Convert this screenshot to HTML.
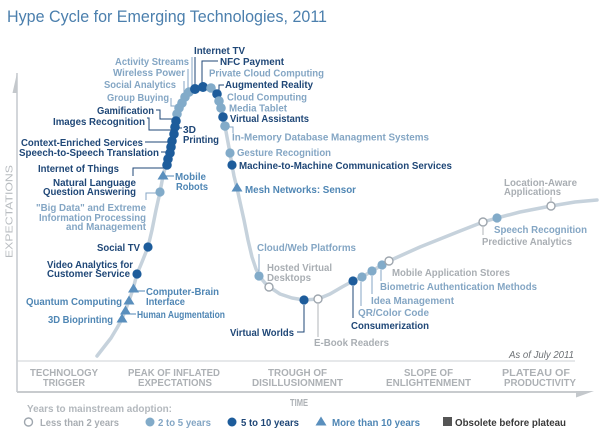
<!DOCTYPE html>
<html>
<head>
<meta charset="utf-8">
<style>
html,body{margin:0;padding:0;background:#fff;}
svg{display:block;}
text{font-family:"Liberation Sans",Arial,sans-serif;}
.d{fill:#1f4777;font-weight:bold;font-size:10.5px;}
.l{fill:#84a6c4;font-weight:bold;font-size:10.5px;}
.t{fill:#4f86b4;font-weight:bold;font-size:10.5px;}
.g{fill:#a9aeb3;font-weight:bold;font-size:10.5px;}
.ph{fill:#adb1b5;font-weight:bold;font-size:10px;}
.ld{stroke:#1f4777;stroke-width:1;fill:none;}
.ll{stroke:#84a6c4;stroke-width:1;fill:none;}
.lt{stroke:#4f86b4;stroke-width:1;fill:none;}
.lg{stroke:#b0b5ba;stroke-width:1;fill:none;}
.md{fill:#1d5c9b;}
.ml{fill:#82abc9;}
.mt{fill:#5a8fbd;}
.mo{fill:#fff;stroke:#9ea6ae;stroke-width:1.4;}
</style>
</head>
<body>
<svg width="600" height="436" viewBox="0 0 600 436" xmlns="http://www.w3.org/2000/svg">
<rect width="600" height="436" fill="#fff"/>
<!-- Title -->
<text x="7" y="22" font-size="17" fill="#4b7fad" textLength="320" lengthAdjust="spacingAndGlyphs">Hype Cycle for Emerging Technologies, 2011</text>

<!-- Axes -->
<line x1="17" y1="73" x2="17" y2="392" stroke="#c8ccd0" stroke-width="1.6"/>
<polygon points="17,73 17,93 12.5,93" fill="#c4c8cc"/>
<line x1="17" y1="361" x2="575" y2="361" stroke="#cdd1d5" stroke-width="1"/>
<line x1="17" y1="392" x2="577" y2="392" stroke="#c8cbce" stroke-width="2"/>
<polygon points="576,391 594,391 576,397.5" fill="#c4c8cc"/>
<text x="0" y="0" transform="translate(12.5,258) rotate(-90)" font-size="10" fill="#b8bcc0" textLength="93" lengthAdjust="spacingAndGlyphs">EXPECTATIONS</text>

<!-- Curve -->
<polyline fill="none" stroke="#c6d2dc" stroke-width="3.5" stroke-linejoin="round" stroke-linecap="round"
points="97,356 104,347 111,338 117,328 122,319 125,311 129,301 133,289 137,274 142,262 148,247 152,230 156,210 160,192 163,176 166,165 168,159 170,153 171,147 172,141 174,134 175,127 176,120 178,113 180,107 183,101 186,96 190,92 195,89 203,87 210,88 214,90 217,94 219,101 221,108 223,117 225,126 227,137 230,153 232,165 234,176 237,188 240,202 244,220 248,240 252,257 256,269 260,277 265,283 271,288 280,294 292,298 304,300 318,299 330,294 342,287 353,281 362,277 372,271 382,265 389,261 400,256 420,247 440,239 460,231 483,222 497,218 520,212 551,206 575,202 597,200"/>

<!-- Leader lines -->
<polyline class="ld" points="195,57 195,85"/>
<polyline class="ld" points="202,83 202,61 218,61"/>
<polyline class="ll" points="192,57 192,88"/>
<polyline class="ll" points="188,69 188,92"/>
<polyline class="ll" points="184,81 184,97"/>
<polyline class="ll" points="171,98 171,106 179,106"/>
<polyline class="ld" points="156,110 160,110 160,119 173,119"/>
<polyline class="ld" points="147,118 149,118 149,130 172,130"/>
<polyline class="ld" points="177,128 182,128"/>
<polyline class="ld" points="145,142 170,142"/>
<polyline class="ld" points="161,152 168,152"/>
<polyline class="ld" points="133,176 133,168 164,168"/>
<polyline class="ll" points="146,200 146,193 156,193"/>
<polyline class="lt" points="166,176 174,176"/>
<polyline class="lt" points="137,291 145,291"/>
<polyline class="lt" points="129,314 136,314"/>
<polyline class="ld" points="219,90 219,85 224,85"/>
<polyline class="ll" points="228,127 233,127 233,133"/>
<polyline class="ll" points="259,254 259,271"/>
<polyline class="ld" points="304,305 304,332 297,332"/>
<polyline class="lg" points="318,304 318,337"/>
<polyline class="ld" points="353,286 353,318"/>
<polyline class="ll" points="361,282 361,306"/>
<polyline class="ll" points="372,276 372,294"/>
<polyline class="ll" points="381,270 381,281"/>
<polyline class="lg" points="483,227 483,235"/>
<polyline class="lg" points="551,201 551,197"/>

<!-- Markers: rising side -->
<circle class="ml" cx="189" cy="92" r="4.8"/>
<circle class="ml" cx="185" cy="97" r="4.8"/>
<circle class="ml" cx="182" cy="103" r="4.8"/>
<circle class="ml" cx="179" cy="108" r="4.8"/>
<circle class="ml" cx="177" cy="114" r="4.8"/>
<circle class="md" cx="176" cy="121" r="4.8"/>
<circle class="md" cx="175" cy="127" r="4.8"/>
<circle class="md" cx="174" cy="134" r="4.8"/>
<circle class="md" cx="172" cy="141" r="4.8"/>
<circle class="md" cx="171" cy="147" r="4.8"/>
<circle class="md" cx="170" cy="153" r="4.8"/>
<circle class="md" cx="168" cy="159" r="4.8"/>
<circle class="md" cx="167" cy="165" r="4.8"/>
<polygon class="mt" points="163,170.5 157.5,179.5 168.5,179.5"/>
<circle class="ml" cx="160" cy="192" r="4.6"/>
<circle class="md" cx="148" cy="247" r="4.6"/>
<circle class="md" cx="137" cy="274" r="4.6"/>
<polygon class="mt" points="133.5,283.5 128,292.5 139,292.5"/>
<polygon class="mt" points="129,295.5 123.5,304.5 134.5,304.5"/>
<polygon class="mt" points="125.5,305.5 120,314.5 131,314.5"/>
<polygon class="mt" points="122,313.5 116.5,322.5 127.5,322.5"/>
<!-- peak -->
<circle class="md" cx="195" cy="89" r="5"/>
<circle class="md" cx="203" cy="87" r="5"/>
<circle class="ml" cx="211" cy="88" r="4.8"/>
<circle class="md" cx="217" cy="94" r="4.8"/>
<circle class="ml" cx="219" cy="101" r="4.8"/>
<circle class="ml" cx="221" cy="108" r="4.8"/>
<circle class="md" cx="223" cy="117" r="4.8"/>
<circle class="ml" cx="225" cy="126" r="4.8"/>
<circle class="ml" cx="230" cy="153" r="4.6"/>
<circle class="md" cx="232" cy="165" r="4.6"/>
<polygon class="mt" points="237,182.5 231.5,191.5 242.5,191.5"/>
<!-- trough and slope -->
<circle class="ml" cx="259" cy="276" r="4.6"/>
<circle class="mo" cx="269" cy="287" r="4"/>
<circle class="md" cx="304" cy="300" r="4.6"/>
<circle class="mo" cx="318" cy="299" r="4"/>
<circle class="md" cx="353" cy="281" r="4.6"/>
<circle class="ml" cx="362" cy="277" r="4.6"/>
<circle class="ml" cx="372" cy="271" r="4.6"/>
<circle class="ml" cx="382" cy="265" r="4.6"/>
<circle class="mo" cx="389" cy="261" r="4"/>
<circle class="mo" cx="483" cy="222" r="4"/>
<circle class="ml" cx="497" cy="218" r="4.6"/>
<circle class="mo" cx="551" cy="206" r="4"/>

<!-- Labels -->
<text class="d" x="194" y="54" textLength="51" lengthAdjust="spacingAndGlyphs">Internet TV</text>
<text class="d" x="220" y="65" textLength="64" lengthAdjust="spacingAndGlyphs">NFC Payment</text>
<text class="l" x="115" y="65" textLength="74" lengthAdjust="spacingAndGlyphs">Activity Streams</text>
<text class="l" x="113" y="76" textLength="72" lengthAdjust="spacingAndGlyphs">Wireless Power</text>
<text class="l" x="209" y="76.5" textLength="115" lengthAdjust="spacingAndGlyphs">Private Cloud Computing</text>
<text class="l" x="104" y="88" textLength="72" lengthAdjust="spacingAndGlyphs">Social Analytics</text>
<text class="d" x="225" y="88" textLength="88" lengthAdjust="spacingAndGlyphs">Augmented Reality</text>
<text class="l" x="107" y="101" textLength="62" lengthAdjust="spacingAndGlyphs">Group Buying</text>
<text class="l" x="227" y="100.5" textLength="80" lengthAdjust="spacingAndGlyphs">Cloud Computing</text>
<text class="d" x="97" y="114" textLength="57" lengthAdjust="spacingAndGlyphs">Gamification</text>
<text class="l" x="229" y="111.5" textLength="58" lengthAdjust="spacingAndGlyphs">Media Tablet</text>
<text class="d" x="230" y="122" textLength="79" lengthAdjust="spacingAndGlyphs">Virtual Assistants</text>
<text class="d" x="53" y="125" textLength="92" lengthAdjust="spacingAndGlyphs">Images Recognition</text>
<text class="d" x="183" y="133" textLength="13" lengthAdjust="spacingAndGlyphs">3D</text>
<text class="d" x="183" y="143" textLength="36" lengthAdjust="spacingAndGlyphs">Printing</text>
<text class="l" x="232" y="140.5" textLength="197" lengthAdjust="spacingAndGlyphs">In-Memory Database Managment Systems</text>
<text class="d" x="21" y="146" textLength="122" lengthAdjust="spacingAndGlyphs">Context-Enriched Services</text>
<text class="d" x="19" y="156" textLength="140" lengthAdjust="spacingAndGlyphs">Speech-to-Speech Translation</text>
<text class="l" x="237" y="156" textLength="94" lengthAdjust="spacingAndGlyphs">Gesture Recognition</text>
<text class="d" x="239" y="169" textLength="213" lengthAdjust="spacingAndGlyphs">Machine-to-Machine Communication Services</text>
<text class="d" x="38" y="172" textLength="81" lengthAdjust="spacingAndGlyphs">Internet of Things</text>
<text class="t" x="175" y="180" textLength="31" lengthAdjust="spacingAndGlyphs">Mobile</text>
<text class="t" x="176" y="190" textLength="32" lengthAdjust="spacingAndGlyphs">Robots</text>
<text class="d" x="53" y="186" textLength="83" lengthAdjust="spacingAndGlyphs">Natural Language</text>
<text class="d" x="43" y="195" textLength="93" lengthAdjust="spacingAndGlyphs">Question Answering</text>
<text class="t" x="245" y="193" textLength="111" lengthAdjust="spacingAndGlyphs">Mesh Networks: Sensor</text>
<text class="l" x="36" y="211" textLength="110" lengthAdjust="spacingAndGlyphs">"Big Data" and Extreme</text>
<text class="l" x="39" y="221" textLength="107" lengthAdjust="spacingAndGlyphs">Information Processing</text>
<text class="l" x="66" y="230" textLength="80" lengthAdjust="spacingAndGlyphs">and Management</text>
<text class="l" x="257" y="251" textLength="99" lengthAdjust="spacingAndGlyphs">Cloud/Web Platforms</text>
<text class="d" x="97" y="251" textLength="43" lengthAdjust="spacingAndGlyphs">Social TV</text>
<text class="d" x="47" y="268" textLength="86" lengthAdjust="spacingAndGlyphs">Video Analytics for</text>
<text class="d" x="47" y="277" textLength="83" lengthAdjust="spacingAndGlyphs">Customer Service</text>
<text class="g" x="267" y="271" textLength="65" lengthAdjust="spacingAndGlyphs">Hosted Virtual</text>
<text class="g" x="267" y="281" textLength="44" lengthAdjust="spacingAndGlyphs">Desktops</text>
<text class="g" x="392" y="276" textLength="118" lengthAdjust="spacingAndGlyphs">Mobile Application Stores</text>
<text class="l" x="380" y="290" textLength="157" lengthAdjust="spacingAndGlyphs">Biometric Authentication Methods</text>
<text class="t" x="146" y="295" textLength="73" lengthAdjust="spacingAndGlyphs">Computer-Brain</text>
<text class="t" x="146" y="305" textLength="39" lengthAdjust="spacingAndGlyphs">Interface</text>
<text class="t" x="26" y="305" textLength="96" lengthAdjust="spacingAndGlyphs">Quantum Computing</text>
<text class="l" x="371" y="304" textLength="83" lengthAdjust="spacingAndGlyphs">Idea Management</text>
<text class="l" x="358" y="316" textLength="71" lengthAdjust="spacingAndGlyphs">QR/Color Code</text>
<text class="t" x="137" y="318" textLength="88" lengthAdjust="spacingAndGlyphs">Human Augmentation</text>
<text class="t" x="48" y="323" textLength="65" lengthAdjust="spacingAndGlyphs">3D Bioprinting</text>
<text class="d" x="351" y="329" textLength="78" lengthAdjust="spacingAndGlyphs">Consumerization</text>
<text class="d" x="230" y="336" textLength="64" lengthAdjust="spacingAndGlyphs">Virtual Worlds</text>
<text class="g" x="314" y="346" textLength="75" lengthAdjust="spacingAndGlyphs">E-Book Readers</text>
<text class="g" x="504" y="186" textLength="73" lengthAdjust="spacingAndGlyphs">Location-Aware</text>
<text class="g" x="504" y="195" textLength="57" lengthAdjust="spacingAndGlyphs">Applications</text>
<text class="l" x="494" y="233" textLength="93" lengthAdjust="spacingAndGlyphs">Speech Recognition</text>
<text class="g" x="482" y="245" textLength="90" lengthAdjust="spacingAndGlyphs">Predictive Analytics</text>

<!-- Bottom -->
<text x="509" y="358" font-size="10.5" font-style="italic" fill="#6d7175" textLength="65" lengthAdjust="spacingAndGlyphs">As of July 2011</text>
<text class="ph" x="30" y="376" textLength="68" lengthAdjust="spacingAndGlyphs">TECHNOLOGY</text>
<text class="ph" x="43" y="386" textLength="42" lengthAdjust="spacingAndGlyphs">TRIGGER</text>
<text class="ph" x="128" y="376" textLength="92" lengthAdjust="spacingAndGlyphs">PEAK OF INFLATED</text>
<text class="ph" x="138" y="386" textLength="74" lengthAdjust="spacingAndGlyphs">EXPECTATIONS</text>
<text class="ph" x="268" y="376" textLength="59" lengthAdjust="spacingAndGlyphs">TROUGH OF</text>
<text class="ph" x="252" y="386" textLength="91" lengthAdjust="spacingAndGlyphs">DISILLUSIONMENT</text>
<text class="ph" x="404" y="376" textLength="49" lengthAdjust="spacingAndGlyphs">SLOPE OF</text>
<text class="ph" x="386" y="386" textLength="85" lengthAdjust="spacingAndGlyphs">ENLIGHTENMENT</text>
<text class="ph" x="502" y="376" textLength="68" lengthAdjust="spacingAndGlyphs">PLATEAU OF</text>
<text class="ph" x="504" y="386" textLength="72" lengthAdjust="spacingAndGlyphs">PRODUCTIVITY</text>
<text class="ph" x="290" y="406" textLength="18" lengthAdjust="spacingAndGlyphs">TIME</text>

<!-- Legend -->
<text x="27" y="412" font-size="10.5" font-weight="bold" fill="#b3b8bd" textLength="145" lengthAdjust="spacingAndGlyphs">Years to mainstream adoption:</text>
<circle class="mo" cx="28.5" cy="422" r="4"/>
<text class="g" x="40" y="426" textLength="79" lengthAdjust="spacingAndGlyphs">Less than 2 years</text>
<circle class="ml" cx="150" cy="422" r="4.5"/>
<text class="l" x="158" y="426" textLength="53" lengthAdjust="spacingAndGlyphs">2 to 5 years</text>
<circle class="md" cx="232" cy="422" r="4.5"/>
<text class="d" x="241" y="426" textLength="58" lengthAdjust="spacingAndGlyphs">5 to 10 years</text>
<polygon class="mt" points="321,416.5 315.5,425.5 326.5,425.5"/>
<text class="t" x="332" y="426" textLength="88" lengthAdjust="spacingAndGlyphs">More than 10 years</text>
<rect x="443" y="417" width="9" height="9" fill="#555"/>
<text x="455" y="426" font-size="10.5" font-weight="bold" fill="#3a3a3a" textLength="111" lengthAdjust="spacingAndGlyphs">Obsolete before plateau</text>
</svg>
</body>
</html>
